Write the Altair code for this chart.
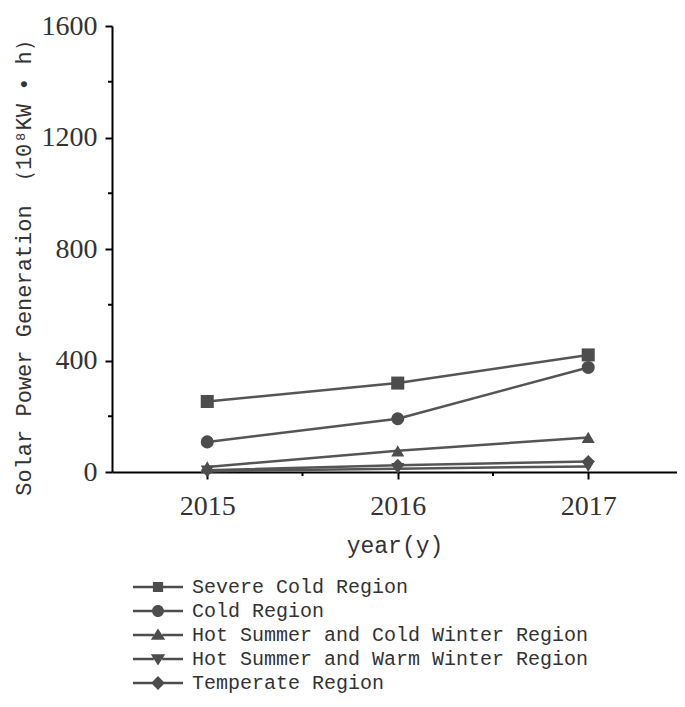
import altair as alt
import pandas as pd

years = [2015, 2016, 2017]
series = [
    "Severe Cold Region",
    "Cold Region",
    "Hot Summer and Cold Winter Region",
    "Hot Summer and Warm Winter Region",
    "Temperate Region",
]
severe_cold = [253, 319, 420]
cold = [108, 191, 375]
hot_summer_cold_winter = [18, 76, 124]
hot_summer_warm_winter = [3, 12, 20]
temperate = [6, 24, 38]

y_major = [0, 400, 800, 1200, 1600]
y_minor = [200, 600, 1000, 1400]
x_minor = [2015.5, 2016.5]

values = [severe_cold, cold, hot_summer_cold_winter, hot_summer_warm_winter, temperate]
rows = []
for s, vals in zip(series, values):
    for yr, v in zip(years, vals):
        rows.append({"year": yr, "value": v, "series": s})
df = pd.DataFrame(rows)

W, H = 565, 446
GRAY = "#4d4d4d"
TXT = "#333333"

seg = "M-4.17,-0.22L-0.7,-0.22L-0.7,0.22L-4.17,0.22Z M0.7,-0.22L4.17,-0.22L4.17,0.22L0.7,0.22Z "
legend_paths = [
    seg + "M-0.85,-0.85L0.85,-0.85L0.85,0.85L-0.85,0.85Z",
    seg + "M1,0A1,1 0 1,1 -1,0A1,1 0 1,1 1,0Z",
    seg + "M0,-1.1L1.2,0.8L-1.2,0.8Z",
    seg + "M0,1.1L-1.2,-0.8L1.2,-0.8Z",
    seg + "M0,-1.15L1.15,0L0,1.15L-1.15,0Z",
]
plot_shapes = ["square", "circle", "triangle-up", "triangle-down", "diamond"]

xscale = alt.Scale(domain=[2014.5, 2017.466], nice=False, zero=False)
yscale = alt.Scale(domain=[0, 1600], nice=False)

x_axis = alt.Axis(
    values=years, format="d", title="year(y)", grid=False,
    labelFont="Liberation Serif", labelFontSize=28, labelColor=TXT, labelPadding=13,
    tickSize=7, tickWidth=2, tickColor="black", domainColor="black", domainWidth=2,
    titleFont="Liberation Mono", titleFontSize=23, titleFontWeight="normal", titleColor=TXT,
    titleY=73, titleBaseline="middle",
)
y_axis = alt.Axis(
    values=y_major, format="d", title="Solar Power Generation （10⁸KW • h）", grid=False,
    labelFont="Liberation Serif", labelFontSize=28, labelColor=TXT, labelPadding=8,
    tickSize=7, tickWidth=2, tickColor="black", domainColor="black", domainWidth=2,
    titleFont="Liberation Mono", titleFontSize=22, titleFontWeight="normal", titleColor=TXT,
    titleAngle=270, titleX=-89, titleY=236, titleBaseline="middle",
)

base = alt.Chart(df)

lines = base.mark_line(color="#555555", strokeWidth=2.5).encode(
    x=alt.X("year:Q", scale=xscale, axis=x_axis),
    y=alt.Y("value:Q", scale=yscale, axis=y_axis),
    detail="series:N",
)

points = base.mark_point(filled=True, opacity=1, color=GRAY, size=170).encode(
    x=alt.X("year:Q", scale=xscale, axis=x_axis),
    y=alt.Y("value:Q", scale=yscale, axis=y_axis),
    shape=alt.Shape("series:N", scale=alt.Scale(domain=series, range=plot_shapes), legend=None),
)

legend_layer = base.mark_point(filled=True, opacity=0, color=GRAY, size=144).encode(
    x=alt.X("year:Q", scale=xscale, axis=x_axis),
    y=alt.Y("value:Q", scale=yscale, axis=y_axis),
    shape=alt.Shape(
        "series:N",
        scale=alt.Scale(domain=series, range=legend_paths),
        sort=series,
        legend=alt.Legend(
            title=None, orient="none", legendX=36, legendY=551, padding=0,
            symbolSize=144, symbolOpacity=1, symbolFillColor=GRAY, symbolStrokeWidth=0,
            labelFont="Liberation Mono", labelFontSize=20, labelColor=TXT,
            labelOffset=24, rowPadding=4, labelLimit=600,
        ),
    ),
)

ymin_df = pd.DataFrame({"value": y_minor})
ymin = alt.Chart(ymin_df).mark_rule(color="black", strokeWidth=2).encode(
    y=alt.Y("value:Q", scale=yscale, axis=y_axis),
    x=alt.value(-4),
    x2=alt.value(0),
)
xmin_df = pd.DataFrame({"year": x_minor})
xmin = alt.Chart(xmin_df).mark_rule(color="black", strokeWidth=2).encode(
    x=alt.X("year:Q", scale=xscale, axis=x_axis),
    y=alt.value(H),
    y2=alt.value(H + 4),
)

chart = (
    alt.layer(lines, points, legend_layer, ymin, xmin)
    .resolve_scale(shape="independent")
    .properties(
        width=W, height=H,
        autosize=alt.AutoSizeParams(type="none"),
        padding={"left": 104, "top": 18, "right": 0, "bottom": 227},
        background="white",
    )
    .configure_view(stroke=None)
)

chart.save("out.html", embed_options={"renderer": "svg", "actions": False})
